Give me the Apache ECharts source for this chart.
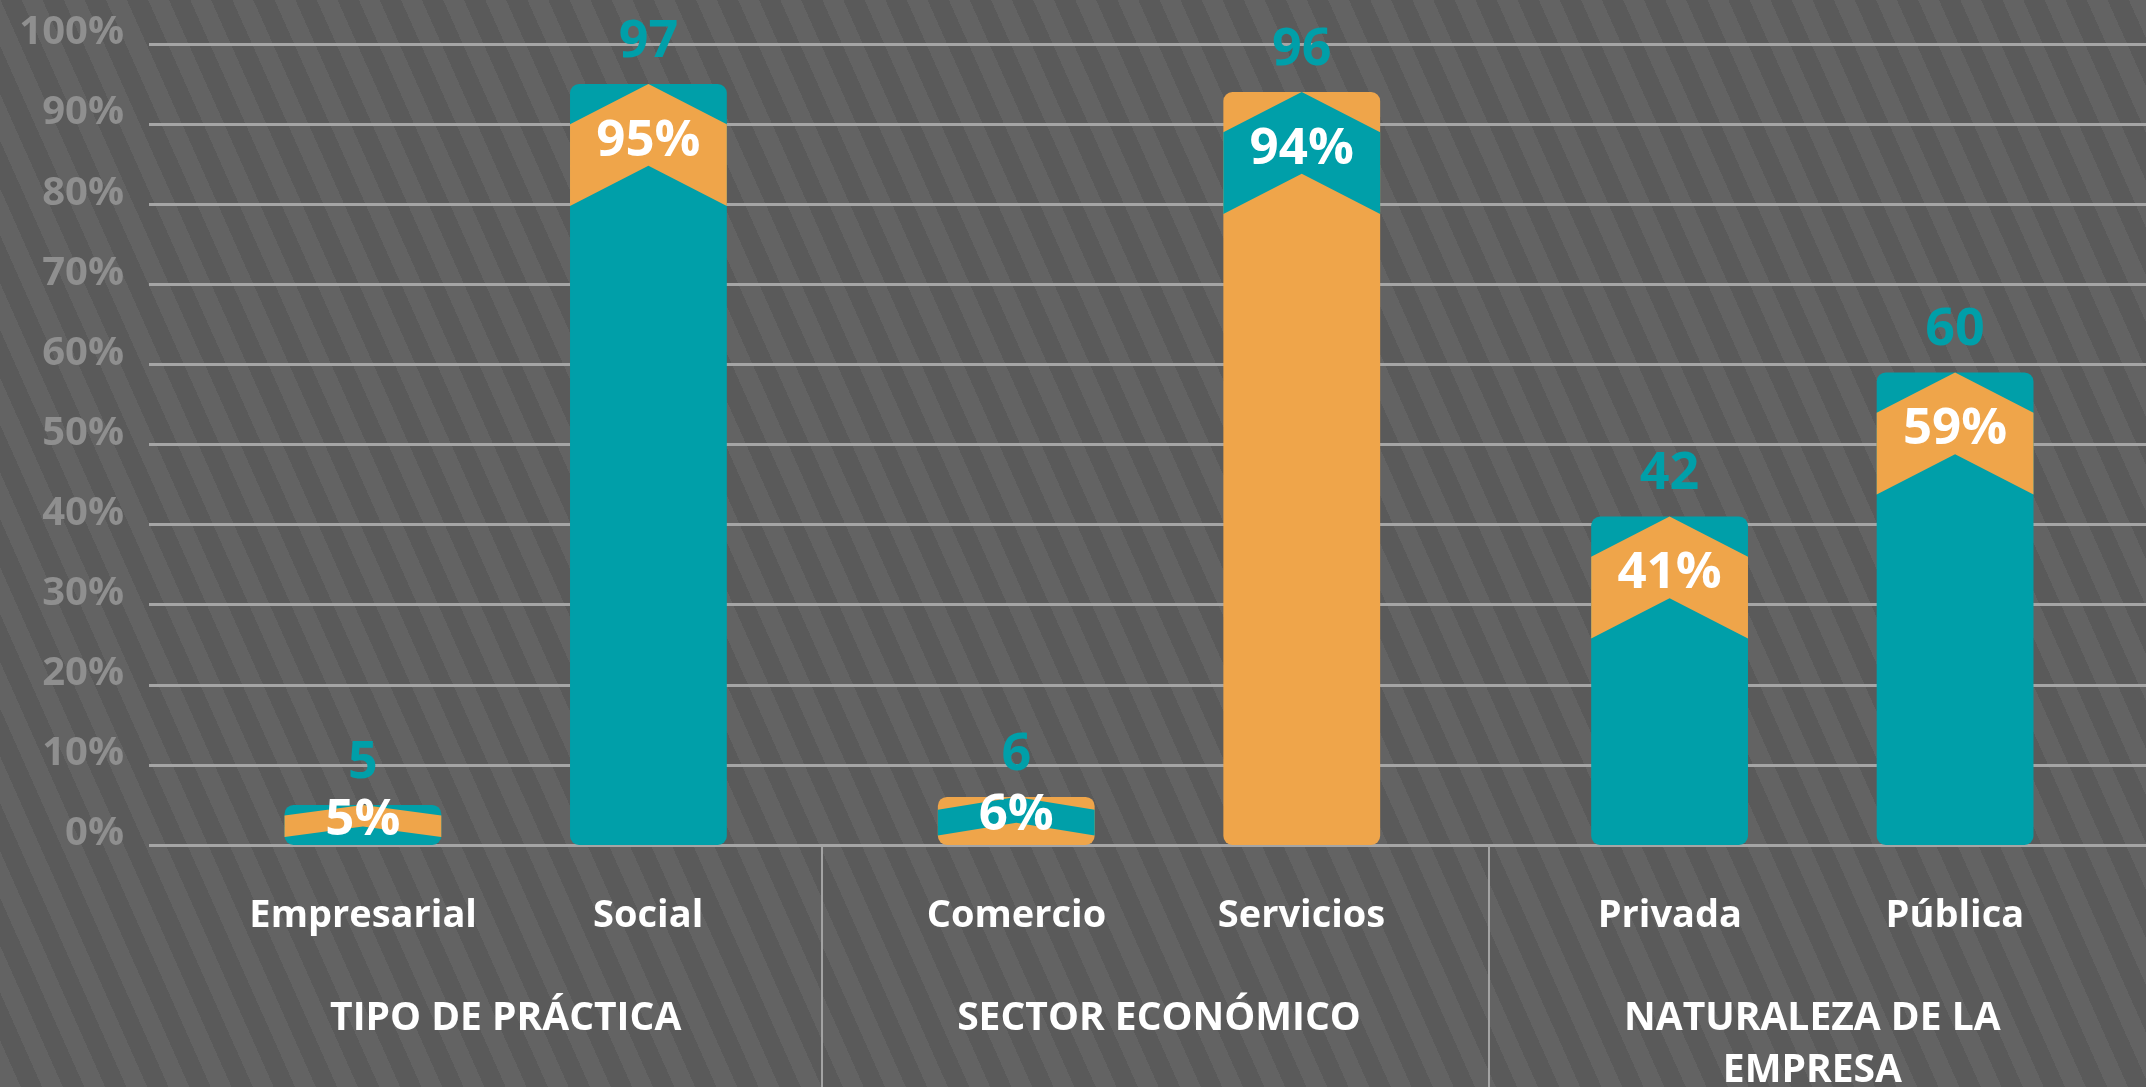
<!DOCTYPE html>
<html>
<head>
<meta charset="utf-8">
<script src="https://cdn.jsdelivr.net/npm/echarts@6/dist/echarts.min.js"></script>
<style>
  html, body { margin: 0; padding: 0; }
  body {
    width: 2146px; height: 1087px; overflow: hidden;
    background: repeating-linear-gradient(66deg, #636363 0 19px, #5a5a5a 19px 38.5px);
  }
  #root { width: 2146px; height: 1087px; }
</style>
</head>
<body>
<div id="root"></div>
<script>
// data
var groupNames = ['TIPO DE PRÁCTICA', 'SECTOR ECONÓMICO', 'NATURALEZA DE LA\nEMPRESA']
var categories = ['Empresarial', 'Social', 'Comercio', 'Servicios', 'Privada', 'Pública']
var percents = [5, 95, 6, 94, 41, 59]
var counts = [5, 97, 6, 96, 42, 60]
var yTicks = [0, 10, 20, 30, 40, 50, 60, 70, 80, 90, 100]

// styling
var TEAL = '#009fa9'
var ORANGE = '#efa54a'
var barTone = [TEAL, TEAL, ORANGE, ORANGE, TEAL, TEAL]
var FONT = '"Open Sans", "Noto Sans", sans-serif'

var barData = percents.map(function (p, i) {
  return [Math.floor(i / 2), p, i]
})

function renderBar (params, api) {
  var g = api.value(0)
  var v = api.value(1)
  var idx = api.value(2)
  var band = api.size([1, 0])[0]
  var side = idx % 2 === 0 ? -1 : 1
  var base = api.coord([g, 0])
  var top = api.coord([g, v])
  var cx = base[0] + side * band * 0.2185
  var w = band * 0.24
  var h = base[1] - top[1]
  var x0 = cx - w / 2
  var x1 = cx + w / 2
  var y0 = top[1]
  var H = Math.min(122, h * 0.8)
  var rise = H * 0.33
  var thick = H * 0.67
  var main = barTone[idx]
  var accent = main === TEAL ? ORANGE : TEAL
  return {
    type: 'group',
    children: [
      {
        type: 'rect',
        shape: { x: x0, y: y0, width: w, height: h, r: 9 },
        style: { fill: main }
      },
      {
        type: 'polygon',
        shape: {
          points: [
            [x0, y0 + rise], [cx, y0], [x1, y0 + rise],
            [x1, y0 + rise + thick], [cx, y0 + thick], [x0, y0 + rise + thick]
          ]
        },
        style: { fill: accent }
      },
      {
        type: 'text',
        x: cx,
        y: y0 + H * 0.47,
        style: {
          text: percents[idx] + '%',
          fill: '#ffffff',
          fontSize: 51,
          fontWeight: 'bold',
          fontFamily: FONT,
          align: 'center',
          verticalAlign: 'middle'
        }
      },
      {
        type: 'text',
        x: cx,
        y: y0 - 42,
        style: {
          text: String(counts[idx]),
          fill: TEAL,
          fontSize: 52,
          fontWeight: 'bold',
          fontFamily: FONT,
          align: 'center',
          verticalAlign: 'middle'
        }
      }
    ]
  }
}

var chart = echarts.init(document.getElementById('root'), null, { renderer: 'canvas' })

var option = {
  backgroundColor: 'transparent',
  animation: false,
  grid: [
    { left: 149, right: 0, top: 44, bottom: 242, outerBoundsMode: 'none' },
    { left: 179, right: 7, top: 44, bottom: 242, outerBoundsMode: 'none' },
    { left: 155, width: 2001, top: 845, bottom: 0, outerBoundsMode: 'none' }
  ],
  xAxis: [
    { gridIndex: 0, type: 'value', show: false },
    {
      gridIndex: 1,
      type: 'category',
      data: groupNames,
      axisLine: { show: false },
      axisTick: { show: false },
      axisLabel: {
        interval: 0,
        margin: 41,
        formatter: function (value, index) {
          var names = '{n|' + categories[index * 2] + '}{n|' + categories[index * 2 + 1] + '}'
          var group = value.split('\n').map(function (s) { return '{g|' + s + '}' }).join('\n')
          return names + '\n{s| }\n' + group
        },
        rich: {
          n: { width: 285, align: 'center', lineHeight: 60, color: '#ffffff', fontSize: 38, fontWeight: 'bold', fontFamily: FONT },
          s: { lineHeight: 47, fontSize: 10 },
          g: { lineHeight: 52, color: '#ffffff', fontSize: 39, fontWeight: 'bold', fontFamily: FONT }
        }
      }
    },
    {
      gridIndex: 2,
      type: 'category',
      data: groupNames,
      axisLine: { show: false },
      axisTick: { show: false },
      axisLabel: { show: false },
      splitLine: {
        show: true,
        showMinLine: false,
        showMaxLine: false,
        lineStyle: { color: '#a3a3a3', width: 2 }
      }
    }
  ],
  yAxis: [
    {
      gridIndex: 0,
      type: 'value',
      min: yTicks[0],
      max: yTicks[yTicks.length - 1],
      interval: 10,
      axisLine: { show: false },
      axisTick: { show: false },
      axisLabel: {
        formatter: '{value}%',
        color: '#8f8f8f',
        fontSize: 40,
        fontWeight: 'bold',
        fontFamily: FONT,
        margin: 25,
        verticalAlign: 'bottom',
        lineHeight: 22
      },
      splitLine: { lineStyle: { color: '#a5a5a5', width: 3 } }
    },
    { gridIndex: 1, type: 'value', min: 0, max: 100, show: false },
    { gridIndex: 2, type: 'value', show: false }
  ],
  series: [
    {
      type: 'custom',
      xAxisIndex: 1,
      yAxisIndex: 1,
      renderItem: renderBar,
      encode: { x: 0, y: 1 },
      data: barData,
      clip: false
    }
  ]
}

chart.setOption(option)
</script>
</body>
</html>
